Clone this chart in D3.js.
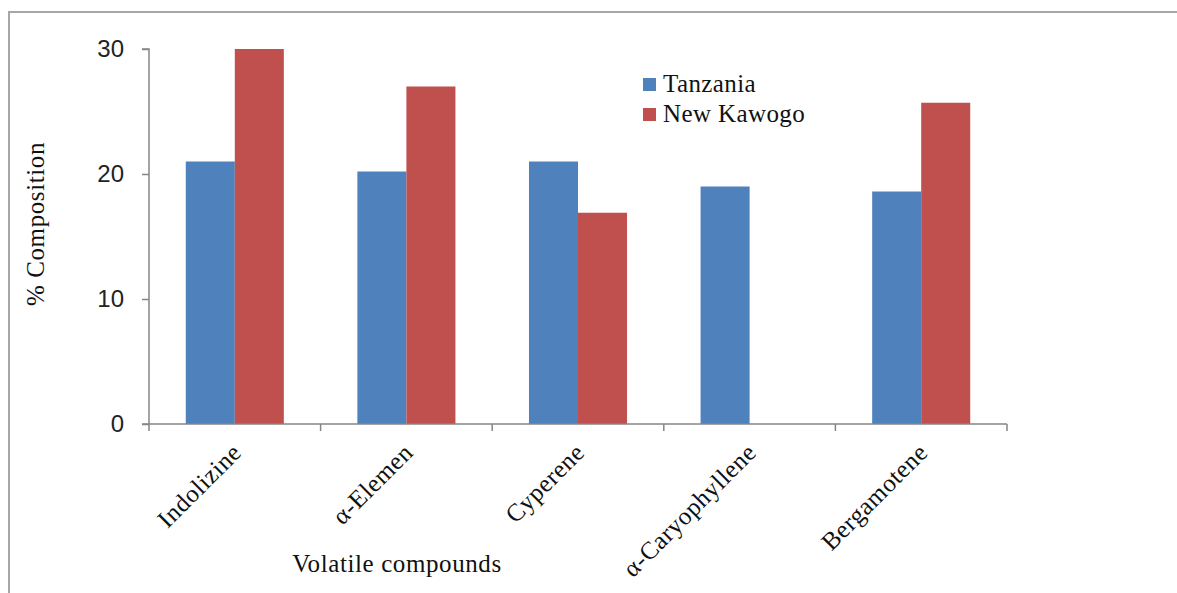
<!DOCTYPE html>
<html>
<head>
<meta charset="utf-8">
<script src="https://cdn.jsdelivr.net/npm/d3@7"></script>
<style>
  html, body { margin: 0; padding: 0; background: #fff; }
  svg { display: block; }
</style>
</head>
<body>
<svg id="chart" width="1177" height="593"></svg>
<script>
// Volatile compound composition (%) by origin
const categories = ["Indolizine", "\u03B1-Elemen", "Cyperene", "\u03B1-Caryophyllene", "Bergamotene"];
const seriesNames = ["Tanzania", "New Kawogo"];
const tanzania = [21.0, 20.2, 21.0, 19.0, 18.6];
const newKawogo = [30.0, 27.0, 16.9, 0, 25.7];
const yTicks = [0, 10, 20, 30];
const colors = ["#4F81BD", "#C0504D"];

const seriesValues = [tanzania, newKawogo];
const rows = categories.map((c, i) => ({
  category: c,
  values: seriesNames.map((s, j) => ({ series: s, value: seriesValues[j][i], color: colors[j] }))
}));

const svg = d3.select("#chart");
const serif = "'Liberation Serif', 'Times New Roman', serif";
const sans = "'Liberation Sans', Arial, sans-serif";

// outer frame
svg.append("path")
  .attr("d", "M9,593 V12 H1177")
  .attr("fill", "none")
  .attr("stroke", "#a6a6a6")
  .attr("stroke-width", 2);

const plot = { left: 149, right: 1007, top: 49, bottom: 424 };

const x0 = d3.scaleBand().domain(categories).range([plot.left, plot.right]).padding(0);
const x1 = d3.scaleBand().domain(seriesNames).range([0, x0.bandwidth()]).paddingInner(0).paddingOuter(0.75);
const y = d3.scaleLinear().domain([0, 30]).range([plot.bottom, plot.top]);

// bars
const groups = svg.append("g").selectAll("g")
  .data(rows).join("g")
  .attr("transform", d => `translate(${x0(d.category)},0)`);

groups.selectAll("rect")
  .data(d => d.values.filter(v => v.value > 0))
  .join("rect")
  .attr("x", d => x1(d.series))
  .attr("y", d => y(d.value))
  .attr("width", x1.bandwidth())
  .attr("height", d => y(0) - y(d.value))
  .attr("fill", d => d.color);

// y axis
const yAxis = svg.append("g")
  .attr("transform", `translate(${plot.left},0)`)
  .call(d3.axisLeft(y).tickValues(yTicks).tickSize(7).tickPadding(18).tickFormat(d3.format("d")));
yAxis.select(".domain").attr("stroke", "#868686").attr("stroke-width", 1.5).attr("d", `M-7,${plot.top}H0V${plot.bottom}H-7`);
yAxis.selectAll(".tick line").attr("stroke", "#868686").attr("stroke-width", 1.5);
yAxis.selectAll(".tick text")
  .attr("font-family", sans).attr("font-size", 24).attr("fill", "#222");

// x axis with ticks at category boundaries
const xAxisG = svg.append("g");
xAxisG.append("line")
  .attr("x1", plot.left).attr("x2", plot.right)
  .attr("y1", plot.bottom).attr("y2", plot.bottom)
  .attr("stroke", "#868686").attr("stroke-width", 1.5);
const boundaries = categories.map(c => x0(c)).concat([x0(categories[categories.length - 1]) + x0.bandwidth()]);
xAxisG.selectAll("line.tk")
  .data(boundaries).join("line")
  .attr("class", "tk")
  .attr("x1", d => d).attr("x2", d => d)
  .attr("y1", plot.bottom).attr("y2", plot.bottom + 7)
  .attr("stroke", "#868686").attr("stroke-width", 1.5);

xAxisG.selectAll("text")
  .data(categories).join("text")
  .attr("transform", d => `translate(${x0(d) + x0.bandwidth() / 2 + 8},${plot.bottom + 30}) rotate(-45)`)
  .attr("text-anchor", "end")
  .attr("font-family", serif)
  .attr("font-size", 25)
  .attr("letter-spacing", 0.5)
  .attr("fill", "#111")
  .text(d => d);

// axis titles
svg.append("text")
  .attr("transform", "translate(44,224) rotate(-90)")
  .attr("text-anchor", "middle")
  .attr("font-family", serif).attr("font-size", 25).attr("letter-spacing", 0.6).attr("fill", "#111")
  .text("% Composition");

svg.append("text")
  .attr("x", 397).attr("y", 572)
  .attr("text-anchor", "middle")
  .attr("font-family", serif).attr("font-size", 25).attr("letter-spacing", 0.6).attr("fill", "#111")
  .text("Volatile compounds");

// legend
const legend = svg.append("g").attr("transform", "translate(643,78)");
const li = legend.selectAll("g").data(seriesNames).join("g")
  .attr("transform", (d, i) => `translate(0,${i * 30})`);
li.append("rect").attr("width", 13).attr("height", 13).attr("fill", (d, i) => colors[i]);
li.append("text")
  .attr("x", 20).attr("y", 14)
  .attr("font-family", serif).attr("font-size", 25).attr("letter-spacing", 0.4).attr("fill", "#111")
  .text(d => d);
</script>
</body>
</html>
